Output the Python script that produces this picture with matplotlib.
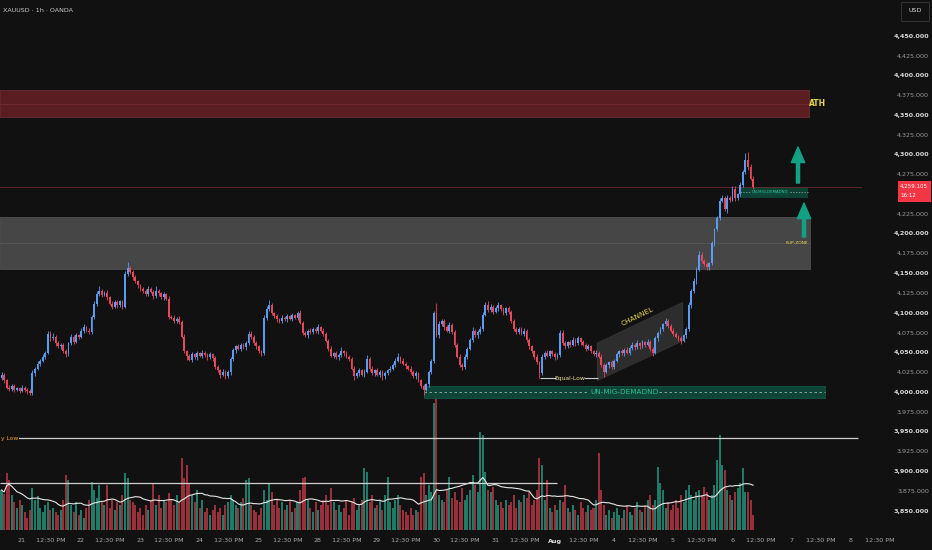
import numpy as np
import pandas as pd
import matplotlib
matplotlib.use("Agg")
from matplotlib import pyplot as plt
from matplotlib.patches import Rectangle, Polygon
from matplotlib.transforms import blended_transform_factory

plt.rcParams['font.family'] = ['DejaVu Sans']

# --- данные (часовые свечи XAUUSD) ---
first_open = 4018
closes = [
    4022, 4015, 4006, 4004, 4008, 4003, 4005, 4002, 4006, 4003,
    4001, 3999, 4024, 4030, 4036, 4040, 4045, 4050, 4074, 4068,
    4070, 4062, 4058, 4060, 4052, 4048, 4062, 4070, 4064, 4072,
    4070, 4078, 4082, 4078, 4076, 4095, 4112, 4124, 4128, 4123,
    4126, 4120, 4112, 4108, 4114, 4110, 4115, 4108, 4150, 4157,
    4152, 4145, 4140, 4135, 4130, 4128, 4124, 4130, 4127, 4121,
    4128, 4125, 4120, 4124, 4118, 4095, 4094, 4090, 4093, 4089,
    4070, 4052, 4046, 4041, 4048, 4044, 4049, 4046, 4050, 4047,
    4044, 4048, 4043, 4032, 4028, 4022, 4026, 4020, 4025, 4042,
    4053, 4058, 4055, 4060, 4057, 4062, 4074, 4070, 4062, 4058,
    4052, 4049, 4094, 4105, 4110, 4100, 4096, 4092, 4090, 4094,
    4092, 4096, 4093, 4097, 4094, 4100, 4088, 4075, 4072, 4078,
    4076, 4080, 4077, 4082, 4078, 4074, 4065, 4055, 4046, 4049,
    4044, 4047, 4052, 4049, 4045, 4042, 4030, 4020, 4024, 4028,
    4022, 4026, 4042, 4030, 4024, 4028, 4022, 4026, 4020, 4024,
    4028, 4030, 4035, 4040, 4044, 4040, 4036, 4033, 4030, 4026,
    4020, 4024, 4015, 4008, 4003, 4010, 4025, 4040, 4100, 4072,
    4086, 4090, 4082, 4078, 4085, 4076, 4060, 4045, 4035, 4032,
    4045, 4055, 4066, 4078, 4072, 4076, 4080, 4098, 4110, 4104,
    4108, 4102, 4106, 4110, 4105, 4100, 4106, 4102, 4090, 4080,
    4076, 4080, 4074, 4078, 4066, 4058, 4052, 4045, 4038, 4024,
    4045, 4050, 4046, 4052, 4048, 4044, 4047, 4075, 4062, 4058,
    4063, 4060, 4066, 4062, 4068, 4063, 4060, 4055, 4058, 4052,
    4048, 4050, 4045, 4035, 4026, 4034, 4038, 4032, 4040, 4048,
    4052, 4049, 4054, 4050, 4056, 4060, 4057, 4062, 4058, 4063,
    4060, 4064, 4055, 4050, 4068, 4075, 4080, 4086, 4090, 4084,
    4078, 4074, 4070, 4068, 4065, 4072, 4080, 4110, 4128, 4140,
    4155, 4174, 4166, 4162, 4158, 4163, 4188, 4206, 4220, 4242,
    4245, 4232, 4246, 4243, 4257, 4246, 4250, 4262, 4278, 4293,
    4284, 4270, 4259.105,
]
up_wick = [
    3, 2, 2, 3, 2, 3, 2, 2, 3, 2,
    2, 3, 4, 2, 3, 2, 3, 2, 4, 3,
    5, 2, 3, 2, 2, 3, 2, 4, 2, 3,
    2, 3, 4, 2, 3, 2, 3, 4, 6, 3,
    2, 3, 2, 3, 2, 3, 2, 2, 3, 7,
    3, 2, 3, 2, 2, 3, 2, 4, 3, 2,
    6, 3, 2, 3, 2, 3, 2, 3, 2, 3,
    2, 3, 2, 2, 3, 2, 3, 2, 3, 2,
    2, 3, 2, 3, 2, 2, 3, 2, 3, 2,
    3, 2, 3, 2, 2, 3, 4, 3, 2, 3,
    2, 2, 3, 4, 6, 3, 2, 3, 2, 3,
    2, 3, 2, 3, 2, 3, 4, 2, 3, 2,
    3, 2, 3, 4, 2, 3, 2, 2, 3, 2,
    3, 2, 5, 2, 3, 2, 2, 3, 2, 3,
    2, 3, 5, 2, 3, 2, 3, 2, 2, 3,
    2, 3, 2, 3, 5, 2, 3, 2, 2, 3,
    2, 3, 2, 2, 3, 2, 3, 2, 3, 13,
    4, 3, 2, 3, 4, 2, 3, 2, 3, 2,
    3, 2, 3, 4, 2, 3, 4, 3, 4, 5,
    3, 2, 3, 4, 2, 3, 2, 3, 2, 3,
    2, 3, 2, 3, 2, 3, 2, 2, 3, 2,
    3, 2, 3, 2, 2, 3, 2, 4, 4, 3,
    2, 3, 4, 2, 3, 2, 3, 2, 3, 2,
    2, 3, 2, 3, 2, 3, 2, 3, 2, 3,
    2, 3, 2, 3, 2, 3, 2, 4, 2, 3,
    2, 3, 2, 2, 3, 2, 3, 2, 4, 3,
    2, 3, 2, 2, 3, 2, 3, 4, 3, 4,
    3, 5, 3, 2, 3, 2, 3, 2, 3, 4,
    4, 3, 3, 2, 4, 3, 2, 3, 3, 9,
    10, 4, 3,
]
lo_wick = [
    2, 3, 2, 3, 2, 3, 2, 3, 2, 3,
    3, 3, 2, 3, 2, 3, 2, 3, 2, 3,
    2, 3, 2, 3, 2, 3, 2, 2, 3, 2,
    3, 2, 3, 2, 3, 2, 2, 3, 2, 3,
    2, 3, 2, 3, 2, 3, 2, 3, 2, 3,
    2, 3, 2, 3, 2, 3, 2, 3, 2, 3,
    2, 3, 2, 3, 2, 3, 2, 3, 2, 3,
    2, 3, 5, 2, 3, 2, 3, 2, 3, 2,
    3, 2, 3, 2, 3, 4, 2, 3, 2, 3,
    2, 3, 2, 3, 2, 3, 2, 3, 2, 3,
    2, 3, 2, 3, 2, 3, 2, 3, 2, 3,
    2, 3, 2, 3, 2, 3, 2, 3, 2, 3,
    2, 3, 2, 3, 2, 3, 2, 3, 2, 3,
    2, 3, 2, 3, 2, 3, 2, 4, 2, 3,
    2, 3, 2, 3, 2, 3, 2, 3, 4, 3,
    2, 3, 2, 3, 2, 3, 2, 3, 2, 3,
    2, 3, 2, 3, 7, 2, 3, 2, 3, 2,
    3, 2, 3, 2, 3, 2, 3, 2, 3, 4,
    2, 3, 2, 3, 2, 3, 2, 3, 2, 3,
    2, 3, 2, 3, 2, 3, 2, 3, 2, 3,
    2, 3, 2, 3, 2, 3, 2, 3, 2, 6,
    2, 3, 2, 3, 2, 3, 2, 3, 2, 3,
    2, 3, 2, 3, 2, 3, 2, 3, 2, 3,
    2, 3, 2, 3, 7, 2, 3, 2, 3, 2,
    3, 2, 3, 2, 3, 2, 3, 2, 3, 2,
    3, 2, 3, 4, 2, 3, 2, 3, 2, 3,
    2, 3, 2, 3, 4, 2, 3, 2, 3, 2,
    3, 2, 3, 2, 4, 3, 2, 3, 2, 3,
    2, 3, 6, 3, 2, 4, 3, 2, 3, 2,
    3, 2, 2,
]
volume = [
    40, 36, 57, 50, 35, 28, 22, 30, 25, 18,
    12, 20, 42, 30, 34, 22, 18, 25, 28, 20,
    22, 18, 15, 20, 30, 55, 50, 25, 18, 28,
    15, 20, 12, 22, 30, 48, 40, 32, 45, 28,
    25, 45, 22, 30, 20, 28, 25, 35, 57, 52,
    30, 28, 25, 18, 22, 15, 25, 20, 30, 47,
    25, 35, 22, 30, 28, 37, 30, 25, 35, 28,
    72, 52, 65, 47, 35, 28, 40, 22, 30, 18,
    22, 15, 20, 25, 18, 22, 15, 25, 28, 35,
    30, 25, 22, 28, 32, 50, 52, 25, 20, 18,
    15, 22, 40, 30, 47, 38, 25, 30, 22, 28,
    20, 25, 30, 18, 22, 28, 40, 52, 53, 30,
    22, 18, 28, 20, 25, 30, 35, 25, 42, 28,
    20, 25, 18, 22, 30, 15, 28, 32, 20, 25,
    30, 62, 58, 28, 35, 22, 25, 30, 20, 35,
    53, 28, 22, 30, 35, 25, 20, 18, 15, 22,
    15, 20, 18, 53, 57, 35, 45, 38, 127, 132,
    35, 30, 28, 40, 53, 32, 38, 30, 28, 42,
    30, 35, 40, 55, 45, 38, 98, 95, 58, 40,
    38, 43, 30, 25, 28, 22, 30, 25, 28, 35,
    22, 30, 28, 35, 32, 38, 25, 30, 40, 72,
    65, 30, 50, 22, 18, 25, 20, 30, 28, 45,
    22, 18, 25, 20, 15, 28, 22, 18, 25, 20,
    22, 30, 77, 40, 25, 15, 20, 12, 18, 22,
    15, 12, 20, 25, 18, 15, 22, 28, 20, 18,
    25, 30, 35, 25, 30, 63, 47, 40, 22, 28,
    20, 25, 30, 22, 35, 28, 40, 45, 35, 30,
    38, 40, 35, 43, 38, 30, 35, 45, 70, 95,
    65, 60, 40, 35, 30, 38, 42, 47, 62, 38,
    38, 30, 15,
]
day_labels = ['21', '22', '23', '24', '25', '28', '29', '30', '31', 'Aug', '4', '5', '6', '7', '8']
half_label = '12:30 PM'
price_ticks = list(range(3850, 4451, 25))

last_price = 4259.105
countdown = '16:12'
ath_zone = (4347.7, 4381.8, 4364.7)          # низ, верх, середина
flip_zone = (4155.7, 4221.4, 4188.5)
demand_zone = (3992.7, 4008.2, 4000.5)
demand_zone_top = (4245.0, 4259.6, 4252.6)
weekly_low = 3942.2
upper_vol_level = 3885.4
equal_low = 4018.5
channel_prices = [4062.2, 4114.0, 4064.7, 4014.2]

# --- геометрия (пиксели картинки) ---
W, H = 932, 550
STEP = 59.2 / 23       # пикселей на свечу
X0 = 1.5
PLOT_R, PLOT_B = 862, 530
Y_TOP, Y_BOT = 4495.5, 3826.0


def px2i(px):
    return (px - X0) / STEP


def rect(l, t, r, b):
    return [l / W, 1 - b / H, (r - l) / W, (b - t) / H]


BG = '#111111'
UP, DOWN = '#5b9cf2', '#e8485c'
VUP, VDOWN = '#1f7a68', '#97303a'
TEAL = '#14a085'
YEL = '#e8d84e'

n = min(len(closes), len(up_wick), len(lo_wick), len(volume))
c = np.array(closes[:n], dtype=float)
o = np.r_[first_open, c[:-1]]
hi = np.maximum(o, c) + np.array(up_wick[:n])
lo = np.minimum(o, c) - np.array(lo_wick[:n])
idx = np.arange(n)
up = c >= o

fig = plt.figure(figsize=(W / 100, H / 100), dpi=100, facecolor=BG)
ax_v = fig.add_axes(rect(0, 0, PLOT_R, PLOT_B))
ax = fig.add_axes(rect(0, 0, PLOT_R, PLOT_B))
for a in (ax_v, ax):
    a.set_xlim(px2i(0), px2i(PLOT_R))
    a.axis('off')
ax_v.set_zorder(0)
ax.set_zorder(1)
ax_v.set_facecolor(BG)
ax.patch.set_alpha(0)
ax.set_ylim(Y_BOT, Y_TOP)
ax_v.set_ylim(0, PLOT_B)

# объём
vol = np.array(volume[:n], dtype=float)
ax_v.bar(idx, vol, width=0.78, color=np.where(up, VUP, VDOWN), linewidth=0)
vol_ma = pd.Series(vol).rolling(20, min_periods=1).mean()
ax_v.plot(idx, vol_ma, color='#e6e6e6', lw=0.8)

# зоны
x_end = px2i(809)
ax.add_patch(Rectangle((px2i(0), ath_zone[0]), x_end - px2i(0), ath_zone[1] - ath_zone[0],
                       facecolor='#5a1d21', edgecolor='#6e2a2e', lw=0.6, zorder=1))
ax.hlines(ath_zone[2], px2i(0), x_end, color='#7a3236', lw=0.5, zorder=1)
ax.add_patch(Rectangle((px2i(0), flip_zone[0]), px2i(810) - px2i(0), flip_zone[1] - flip_zone[0],
                       facecolor='#464646', edgecolor='#505050', lw=0.6, zorder=1))
ax.hlines(flip_zone[2], px2i(0), px2i(810), color='#5a5a5a', lw=0.5, zorder=1)

dz0, dz1 = px2i(424), px2i(825)
ax.add_patch(Rectangle((dz0, demand_zone[0]), dz1 - dz0, demand_zone[1] - demand_zone[0],
                       facecolor='#0e4537', edgecolor='#125844', lw=0.6, zorder=1))
ax.hlines(demand_zone[2], dz0, dz1, color='#8fb9a8', lw=0.6, linestyles=(0, (3, 3)), zorder=2)
ax.text(px2i(624), demand_zone[2], 'UN-MIG-DEMADND', color='#2fbf8f', fontsize=5.2,
        ha='center', va='center', zorder=3,
        bbox=dict(facecolor='#0e4537', edgecolor='none', pad=0.6))

tz0, tz1 = px2i(740), px2i(808)
ax.add_patch(Rectangle((tz0, demand_zone_top[0]), tz1 - tz0, demand_zone_top[1] - demand_zone_top[0],
                       facecolor='#0d4a3a', edgecolor='none', alpha=0.85, zorder=1))
ax.hlines(demand_zone_top[2], tz0, tz1, color='#8fb9a8', lw=0.5, linestyles=(0, (2, 2)), zorder=2)
ax.text(px2i(770), demand_zone_top[2], 'UN-MIG-DEMADND', color='#2fbf8f', fontsize=2.8,
        ha='center', va='center', zorder=3,
        bbox=dict(facecolor='#0d4a3a', edgecolor='none', pad=0.3))

# канал
ch_x = [px2i(597), px2i(683), px2i(683), px2i(597)]
ax.add_patch(Polygon(list(zip(ch_x, channel_prices)), closed=True, facecolor='#ffffff',
                     alpha=0.12, edgecolor='#aaaaaa', lw=0.5, zorder=2))
ax.text(px2i(638), 4096, 'CHANNEL', color=YEL, fontsize=5.2, rotation=26,
        ha='center', va='center', zorder=4)

# уровни
ax.axhline(last_price, color='#6a272c', lw=0.6, zorder=1)
ax.hlines(weekly_low, px2i(0), px2i(858), color='#cfcfcf', lw=0.9, zorder=2)
ax.hlines(upper_vol_level, px2i(0), px2i(557), color='#cfcfcf', lw=0.9, zorder=2)
ax.text(px2i(1), weekly_low, 'y Low', color='#f0a020', fontsize=4.3,
        ha='left', va='center', zorder=4,
        bbox=dict(facecolor=BG, edgecolor='none', pad=0.4))

ax.hlines(equal_low, px2i(540), px2i(556), color='#cccccc', lw=0.8, zorder=2)
ax.hlines(equal_low, px2i(584), px2i(598), color='#cccccc', lw=0.8, zorder=2)
ax.text(px2i(570), equal_low - 1, 'Equal-Low', color='#efe49a', fontsize=4.3,
        ha='center', va='center', zorder=4)

# свечи
ax.vlines(idx, lo, hi, colors=np.where(up, UP, DOWN), lw=0.6, zorder=3)
body = np.maximum(np.abs(c - o), 0.8)
ax.bar(idx, body, bottom=np.minimum(o, c), width=0.7, color=np.where(up, UP, DOWN),
       linewidth=0, zorder=3)

# стрелки
for px_x, tip, base in [(798, 4309.8, 4264.3), (804, 4239.0, 4196.1)]:
    ax.annotate('', xy=(px2i(px_x), tip), xytext=(px2i(px_x), base),
                arrowprops=dict(arrowstyle='simple,head_length=1.4,head_width=1.2,tail_width=0.28',
                                color=TEAL, mutation_scale=8, shrinkA=0, shrinkB=0), zorder=4)

ax.text(px2i(818), ath_zone[2], 'ATH', color=YEL, fontsize=5.5, fontweight='bold',
        ha='center', va='center', zorder=4)
ax.text(px2i(797), flip_zone[2], 'FLIP-ZONE', color=YEL, fontsize=3.2,
        ha='center', va='center', zorder=4)

# шкала цен (метку под ценником не рисуем — её закрывает ценник)
tr_p = blended_transform_factory(fig.transFigure, ax.transData)
for p in price_ticks:
    if abs(p - last_price) < 14:
        continue
    bold = p % 50 == 0
    ax.text(929 / W, p, f'{p:,.3f}', transform=tr_p, ha='right', va='center',
            fontsize=4.6, color='#d9d9d9' if bold else '#9a9a9a',
            fontweight='bold' if bold else 'normal', clip_on=False)

# метка цены
py = ax.transData.transform((0, last_price))[1]
y_px = H - py
fig.patches.append(Rectangle((898 / W, 1 - (y_px + 15) / H), 33 / W, 21 / H,
                             transform=fig.transFigure, facecolor='#f23645', edgecolor='none'))
fig.text(900 / W, 1 - (y_px - 0.5) / H, f'{last_price:,.3f}', color='white', fontsize=4.0,
         ha='left', va='center')
fig.text(900 / W, 1 - (y_px + 8.5) / H, countdown, color='white', fontsize=4.0,
         ha='left', va='center')

# USD
fig.patches.append(Rectangle((901 / W, 1 - 21 / H), 28 / W, 19 / H, transform=fig.transFigure,
                             facecolor=BG, edgecolor='#3a3a3a', lw=0.6))
fig.text(915 / W, 1 - 11 / H, 'USD', color='#d9d9d9', fontsize=4.6, ha='center', va='center')

# заголовок
fig.text(3 / W, 1 - 11 / H, 'XAUUSD · 1h · OANDA', color='#c8c8c8', fontsize=4.6,
         ha='left', va='center')

# шкала времени
tr_t = blended_transform_factory(ax.transData, fig.transFigure)
for k, lab in enumerate(day_labels):
    day_px = 21.7 + 59.2 * k
    ax.text(px2i(day_px), 1 - 541 / H, lab, transform=tr_t, ha='center', va='center',
            fontsize=4.6, color='#e0e0e0' if lab == 'Aug' else '#a8a8a8',
            fontweight='bold' if lab == 'Aug' else 'normal', clip_on=False)
    ax.text(px2i(day_px + 29.2), 1 - 541 / H, half_label, transform=tr_t, ha='center',
            va='center', fontsize=4.6, color='#a8a8a8', clip_on=False)

fig.savefig('out.png', dpi=100, facecolor=BG)
